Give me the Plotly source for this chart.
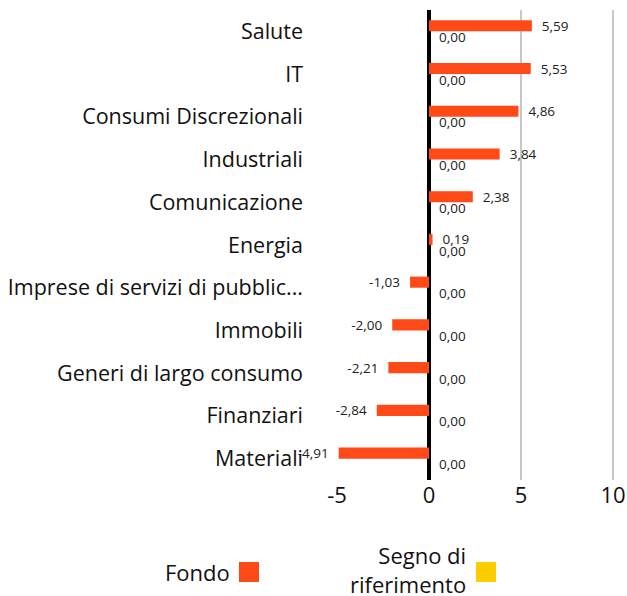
import plotly.graph_objects as go

categories = ["Salute", "IT", "Consumi Discrezionali", "Industriali", "Comunicazione",
              "Energia", "Imprese di servizi di pubblic...", "Immobili",
              "Generi di largo consumo", "Finanziari", "Materiali"]
fondo = [5.59, 5.53, 4.86, 3.84, 2.38, 0.19, -1.03, -2.00, -2.21, -2.84, -4.91]
riferimento = [0.00] * 11
tick_vals = [-5, 0, 5, 10]
tick_text = ["-5", "0", "5", "10"]
grid_vals = [5, 10]

FONT = "Open Sans"
ORANGE = "#FF4A17"
YELLOW = "#FFCC00"
NB = "\u00a0\u00a0"

fig = go.Figure()
fig.add_trace(go.Bar(
    y=categories, x=fondo, orientation="h", name="Fondo",
    marker=dict(color=ORANGE, line=dict(width=0)),
    texttemplate=NB + "%{x:.2f}" + NB, textposition="outside", constraintext="none",
    textfont=dict(size=13.5, color="#222", family=FONT), cliponaxis=False,
))
fig.add_trace(go.Bar(
    y=categories, x=riferimento, orientation="h", name="Segno di riferimento",
    marker=dict(color=YELLOW, line=dict(width=0)),
    texttemplate=NB + "%{x:.2f}" + NB, textposition="outside", constraintext="none",
    textfont=dict(size=13.5, color="#222", family=FONT), cliponaxis=False,
))

for g in grid_vals:
    fig.add_shape(type="line", xref="x", yref="paper", x0=g, x1=g, y0=0, y1=1,
                  line=dict(color="#c8c8c8", width=2), layer="below")

# manual legend (text left of swatch)
fig.add_shape(type="rect", xref="paper", yref="paper", x0=-0.2328, x1=-0.1672,
              y0=-0.2170, y1=-0.1745, fillcolor=ORANGE, line=dict(width=0))
fig.add_shape(type="rect", xref="paper", yref="paper", x0=0.5443, x1=0.6098,
              y0=-0.2170, y1=-0.1745, fillcolor=YELLOW, line=dict(width=0))
fig.add_annotation(xref="paper", yref="paper", x=-0.2557, y=-0.196, text="Fondo",
                   showarrow=False, xanchor="right", yanchor="middle",
                   font=dict(size=22, color="#111", family=FONT))
fig.add_annotation(xref="paper", yref="paper", x=0.518, y=-0.191,
                   text="Segno di<br>riferimento", align="right",
                   showarrow=False, xanchor="right", yanchor="middle",
                   font=dict(size=22, color="#111", family=FONT))

fig.update_layout(
    width=627, height=596,
    margin=dict(l=310, r=12, t=10, b=116, autoexpand=False),
    paper_bgcolor="white", plot_bgcolor="white",
    barmode="group", bargap=0.48, bargroupgap=0,
    separators=",.",
    showlegend=False,
    font=dict(family=FONT, color="#111"),
    xaxis=dict(range=[-6.47, 10.11], tickvals=tick_vals, ticktext=tick_text,
               showgrid=False, zeroline=True, zerolinecolor="black", zerolinewidth=4,
               showline=False, ticks="", tickfont=dict(size=22, color="#111", family=FONT)),
    yaxis=dict(autorange="reversed", showgrid=False, showline=False, ticks="",
               ticklabelstandoff=6,
               tickfont=dict(size=21.5, color="#111", family=FONT)),
)

fig.write_html(
    "out.html",
    config={"displayModeBar": False},
    post_script="document.body.style.margin='0';document.body.style.overflow='hidden';",
)
